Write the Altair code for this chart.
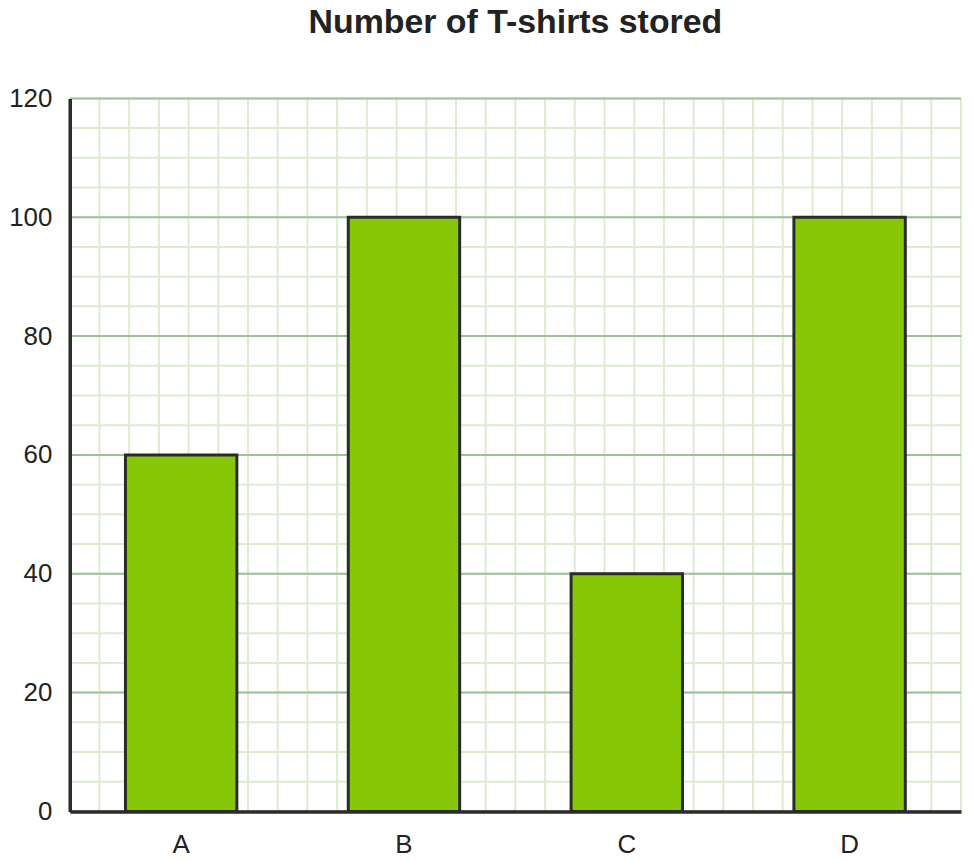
import altair as alt
import pandas as pd

categories = ["A", "B", "C", "D"]
values = [60, 100, 40, 100]
y_major = [0, 20, 40, 60, 80, 100, 120]
y_minor = list(range(0, 121, 5))
x_minor = list(range(0, 31))

bars_df = pd.DataFrame({"cat": categories, "val": values})
ymaj_df = pd.DataFrame({"v": y_major})
ymin_df = pd.DataFrame({"v": y_minor})
xmin_df = pd.DataFrame({"v": x_minor})

FONT = "Liberation Sans"
yscale = alt.Scale(domain=[0, 120], nice=False, zero=True)
yaxis = alt.Axis(
    title=None, values=y_major, ticks=False, domain=True,
    domainColor="#2b2b2b", domainWidth=3.5, labelFontSize=26,
    labelFont=FONT, labelColor="#222222", labelPadding=18, zindex=2,
    grid=False,
)

vgrid = alt.Chart(xmin_df).mark_rule(color="#dcebd2", strokeWidth=2).encode(
    x=alt.X("v:Q", scale=alt.Scale(domain=[0, 30], nice=False), axis=None)
)
hminor = alt.Chart(ymin_df).mark_rule(color="#dcebd2", strokeWidth=2).encode(
    y=alt.Y("v:Q", scale=yscale, axis=yaxis)
)
hmajor = alt.Chart(ymaj_df).mark_rule(color="#9dc19b", strokeWidth=2).encode(
    y=alt.Y("v:Q", scale=yscale, axis=yaxis)
)
bars = alt.Chart(bars_df).mark_bar(
    color="#88c608", stroke="#2b2b2b", strokeWidth=3
).encode(
    x=alt.X(
        "cat:N",
        sort=categories,
        scale=alt.Scale(paddingInner=0.5, paddingOuter=0.25),
        axis=alt.Axis(
            title=None, labelAngle=0, ticks=False, domain=True,
            domainColor="#2b2b2b", domainWidth=3.5, labelFontSize=26,
            labelFont=FONT, labelColor="#222222", labelPadding=20, zindex=2,
            grid=False,
        ),
    ),
    y=alt.Y("val:Q", scale=yscale, axis=yaxis),
)

chart = alt.layer(vgrid, hminor, hmajor, bars).resolve_scale(
    x="independent"
).properties(
    width=895,
    height=716,
    title=alt.TitleParams(
        "Number of T-shirts stored", font=FONT, fontSize=34, fontWeight="bold",
        color="#222222", anchor="middle", frame="group", offset=46,
    ),
    padding={"left": 62, "top": 89, "right": 5, "bottom": 48},
    autosize=alt.AutoSizeParams(type="none"),
).configure_view(stroke=None)

chart.save("out.html", embed_options={"renderer": "svg", "actions": False})
